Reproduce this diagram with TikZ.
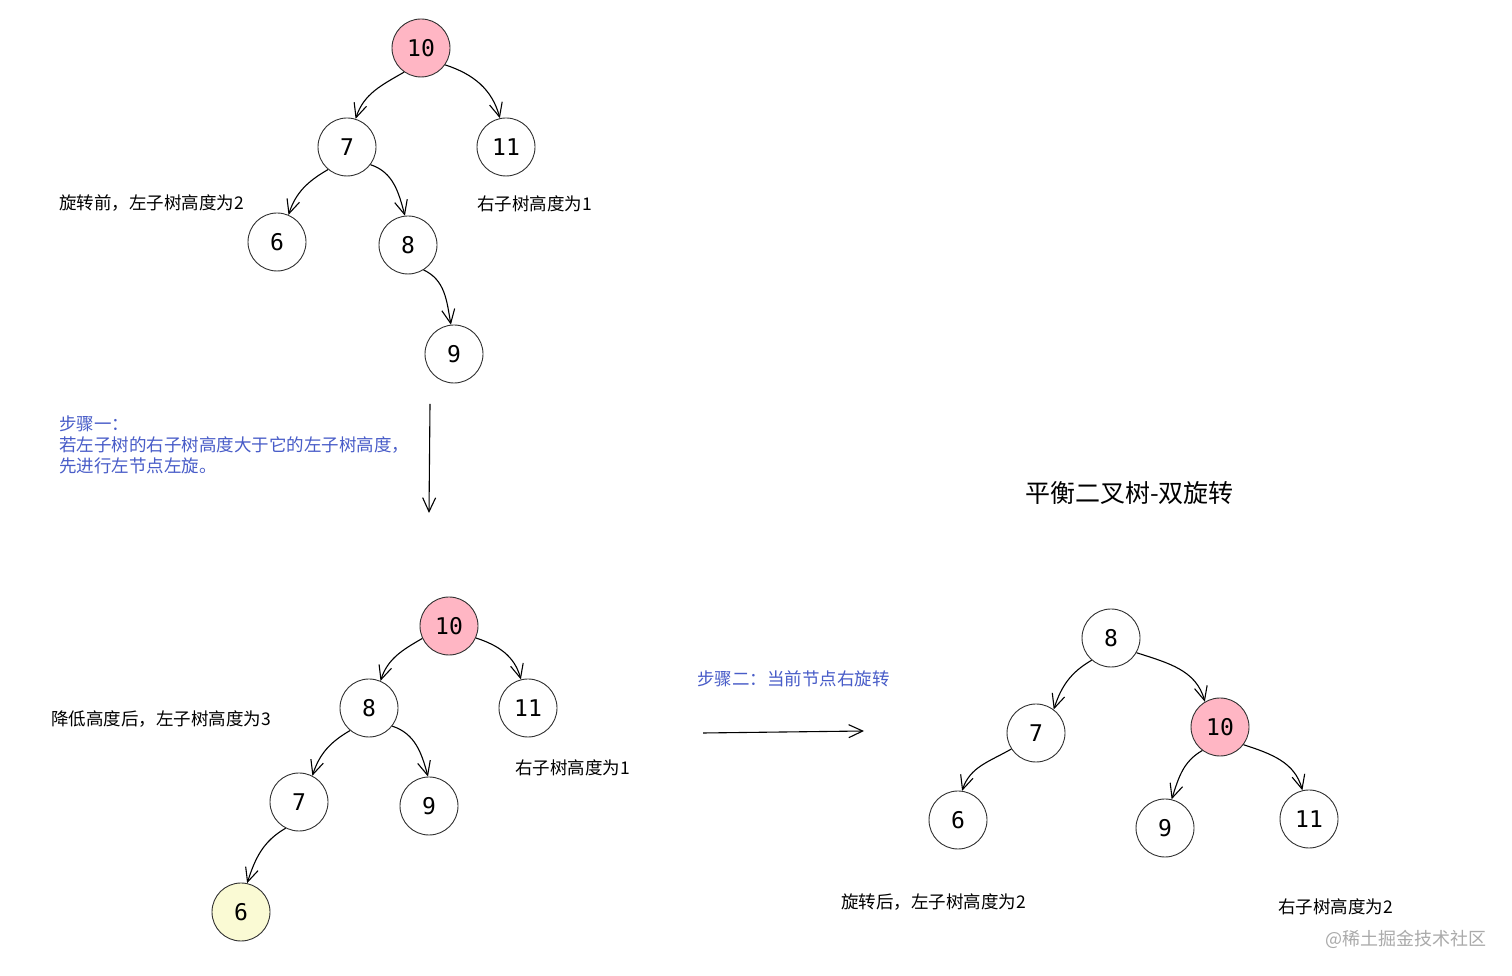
\documentclass[tikz,border=0pt]{standalone}
\usepackage{fontspec}
\newfontfamily\cjk{Noto Sans CJK SC}
\newfontfamily\monof{DejaVu Sans Mono}
\usetikzlibrary{arrows.meta}
\definecolor{pinkfill}{RGB}{255,182,196}
\definecolor{yelfill}{RGB}{250,250,212}
\definecolor{bluetxt}{RGB}{72,92,200}
\definecolor{ringcol}{RGB}{50,50,50}
\definecolor{wmgray}{RGB}{170,170,170}
\tikzset{
  tn/.style={circle,draw=ringcol,line width=0.9pt,minimum size=58pt,inner sep=0pt,fill=white,font=\monof\fontsize{23}{23}\selectfont},
  hot/.style={tn,fill=pinkfill},
  low/.style={tn,fill=yelfill},
  edge/.style={line width=1.1pt,-{Straight Barb[length=14pt,width=13pt,line width=1.1pt]}},
  lt/.style={out=210,in=72},
  rt/.style={out=-18,in=105},
  lbl/.style={anchor=west,inner sep=0pt,font=\cjk\fontsize{17.5}{21}\selectfont},
  blue/.style={lbl,text=bluetxt,align=left}
}
\begin{document}
\begin{tikzpicture}[x=1pt,y=1pt]
\useasboundingbox (0,0) rectangle (1512,976);
\fill[white] (0,0) rectangle (1512,976);
% top tree
\node[hot] (a10) at (421,928) {10};
\node[tn] (a7) at (347,829) {7};
\node[tn] (a11) at (506,829) {11};
\node[tn] (a6) at (277,734) {6};
\node[tn] (a8) at (408,731) {8};
\node[tn] (a9) at (454,622) {9};
\draw[edge] (a10.235) to[lt] (a7.73);
\draw[edge] (a10.325) to[rt] (a11.102);
\draw[edge] (a7.230) to[lt] (a6.67);
\draw[edge] (a7.323) to[rt] (a8.96);
\draw[edge] (a8.302) to[out=-25,in=100] (a9.96);
\node[lbl] (la1) at (59,773) {旋转前，左子树高度为2};
\node[lbl] (la2) at (477,772) {右子树高度为1};
% step one
\node[blue] (s1) at (59,531) {步骤一：\\若左子树的右子树高度大于它的左子树高度，\\先进行左节点左旋。};
\coordinate (v1) at (430,572);
\coordinate (v2) at (429,463);
\draw[edge] (v1) -- (v2);
% middle tree
\node[hot] (b10) at (449,350) {10};
\node[tn] (b8) at (369,268) {8};
\node[tn] (b11) at (528,268) {11};
\node[tn] (b7) at (299,174) {7};
\node[tn] (b9) at (429,170) {9};
\node[low] (b6) at (241,64) {6};
\draw[edge] (b10.205) to[lt] (b8.67);
\draw[edge] (b10.336) to[rt] (b11.104);
\draw[edge] (b8.230) to[lt] (b7.63);
\draw[edge] (b8.322) to[rt] (b9.92);
\draw[edge] (b7.243) to[lt] (b6.78);
\node[lbl] (lb1) at (51,257) {降低高度后，左子树高度为3};
\node[lbl] (lb2) at (515,208) {右子树高度为1};
% step two
\node[blue] (s2) at (697,297) {步骤二：当前节点右旋转};
\coordinate (h1) at (703,243);
\coordinate (h2) at (864,245);
\draw[edge] (h1) -- (h2);
% title
\node[lbl,font=\cjk\fontsize{25}{28}\selectfont] (title) at (1025,483) {平衡二叉树-双旋转};
% right tree
\node[tn] (c8) at (1111,338) {8};
\node[tn] (c7) at (1036,243) {7};
\node[hot] (c10) at (1220,249) {10};
\node[tn] (c6) at (958,156) {6};
\node[tn] (c9) at (1165,148) {9};
\node[tn] (c11) at (1309,157) {11};
\draw[edge] (c8.229) to[lt] (c7.53);
\draw[edge] (c8.330) to[rt] (c10.121);
\draw[edge] (c7.213) to[lt] (c6.82);
\draw[edge] (c10.233) to[lt] (c9.77);
\draw[edge] (c10.323) to[rt] (c11.103);
\node[lbl] (lc1) at (841,74) {旋转后，左子树高度为2};
\node[lbl] (lc2) at (1278,69) {右子树高度为2};
\node[lbl,text=wmgray,font=\cjk\fontsize{18}{20}\selectfont] (wm) at (1325,37) {@稀土掘金技术社区};
\end{tikzpicture}
\end{document}
